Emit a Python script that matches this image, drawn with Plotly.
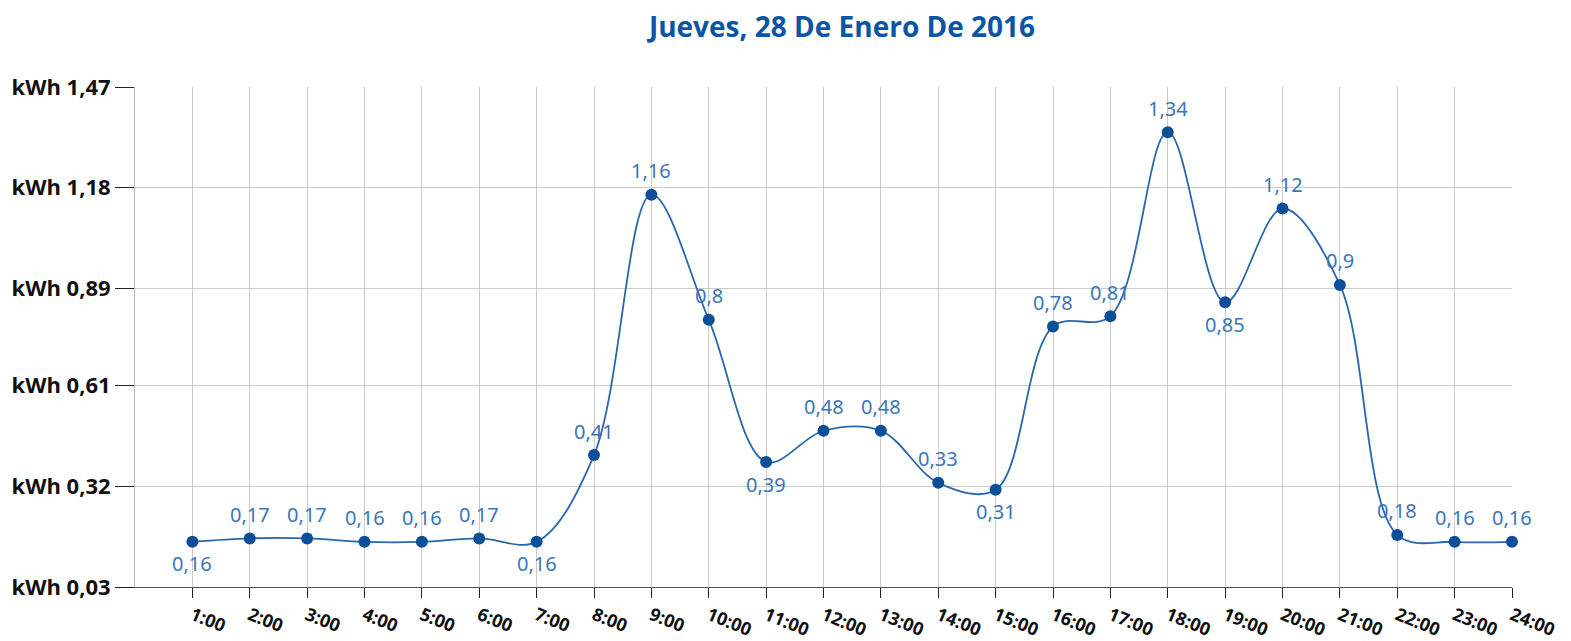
import plotly.graph_objects as go

hours = [f"{h}:00" for h in range(1, 25)]
values = [0.16, 0.17, 0.17, 0.16, 0.16, 0.17, 0.16, 0.41, 1.16, 0.8, 0.39, 0.48,
          0.48, 0.33, 0.31, 0.78, 0.81, 1.34, 0.85, 1.12, 0.9, 0.18, 0.16, 0.16]
# "above" / "below" placement of each data label
label_side = ["below", "above", "above", "above", "above", "above",
              "below", "above", "above", "above", "below", "above",
              "above", "above", "below", "above", "above", "above",
              "below", "above", "above", "above", "above", "above"]
labels = [f"{v:g}".replace(".", ",") for v in values]
y_ticks = [0.03, 0.32, 0.61, 0.89, 1.18, 1.47]
y_ticktext = ["kWh " + f"{v:.2f}".replace(".", ",") for v in y_ticks]

W, H = 1563, 633  # page body has an 8px margin

fig = go.Figure()
fig.add_trace(go.Scatter(
    x=hours, y=values, mode="lines+markers",
    line=dict(color="#2a66ad", width=1.8, shape="spline", smoothing=1.0),
    marker=dict(color="#0b4f99", size=12),
    cliponaxis=False, hoverinfo="x+y",
))

for h, v, t, side in zip(hours, values, labels, label_side):
    fig.add_annotation(
        x=h, y=v, text=t, showarrow=False,
        yshift=24 if side == "above" else -22,
        font=dict(family="Noto Sans", size=20, color="#3a76ba"),
    )

fig.update_layout(
    width=W, height=H,
    margin=dict(l=127, r=59, t=79, b=54),
    paper_bgcolor="white", plot_bgcolor="white",
    showlegend=False,
    title=dict(text="<b>Jueves, 28 De Enero De 2016</b>", x=834 / W, xanchor="center",
               xref="container", yref="container",
               y=1 - 19 / H, yanchor="middle",
               font=dict(family="Open Sans", size=28, color="#0b56a4")),
    xaxis=dict(
        type="category", range=[-1, 23], automargin=False,
        showgrid=True, gridcolor="#cccccc", gridwidth=1,
        showline=True, linecolor="#555555", linewidth=1,
        ticks="outside", ticklen=10, tickcolor="#222222",
        tickangle=22,
        tickfont=dict(family="Open Sans", size=18, color="#111111", weight="bold"),
        fixedrange=True,
    ),
    yaxis=dict(
        range=[0.03, 1.47], tickvals=y_ticks, ticktext=y_ticktext, automargin=False,
        showgrid=True, gridcolor="#cccccc", gridwidth=1,
        showline=True, linecolor="#bdbdbd", linewidth=1,
        ticks="outside", ticklen=19, tickcolor="#222222",
        tickfont=dict(family="Open Sans", size=22, color="#111111", weight="bold"),
        zeroline=False, fixedrange=True,
    ),
)
fig.write_html("out.html")
